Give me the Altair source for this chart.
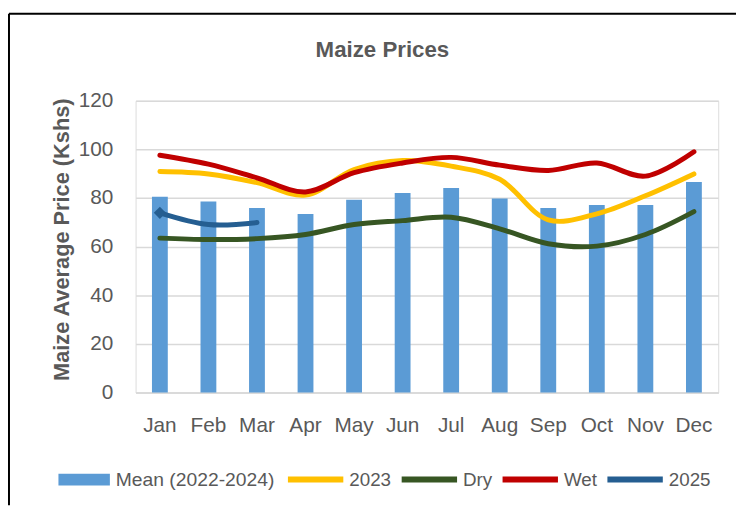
import altair as alt
import pandas as pd

months = ["Jan", "Feb", "Mar", "Apr", "May", "Jun", "Jul", "Aug", "Sep", "Oct", "Nov", "Dec"]
mean_vals = [80.5, 78.6, 75.9, 73.4, 79.3, 82.1, 84.1, 79.8, 75.9, 77.1, 77.1, 86.6]
vals_2023 = [90.9, 89.9, 86.3, 81.2, 91.7, 95.4, 93.1, 87.7, 71.0, 73.5, 80.9, 89.9]
vals_dry = [63.5, 62.9, 63.3, 65.0, 69.1, 70.7, 72.1, 67.3, 61.2, 60.2, 65.0, 74.4]
vals_wet = [97.6, 93.9, 88.3, 82.5, 90.4, 94.4, 96.7, 93.5, 91.3, 94.4, 89.0, 99.0]
vals_2025 = [73.9, 69.1, 69.9]

line_names = ["2023", "Dry", "Wet", "2025"]
line_colors = ["#FFC000", "#375623", "#C00000", "#255E91"]
bar_name = "Mean (2022-2024)"
bar_color = "#5B9BD5"

FONT = "Liberation Sans"
GREY = "#595959"

bars = pd.DataFrame({"month": months, "value": mean_vals, "series": bar_name})
rows = []
for name, vals in zip(line_names, [vals_2023, vals_dry, vals_wet, vals_2025]):
    for m, v in zip(months, vals):
        rows.append({"month": m, "value": v, "series": name})
lines = pd.DataFrame(rows)
first_2025 = pd.DataFrame({"month": [months[0]], "value": [vals_2025[0]]})

W, H = 589, 295

xscale = alt.Scale(domain=months, paddingInner=0, paddingOuter=0)
xenc = alt.X("month:N", scale=xscale, sort=months,
             axis=alt.Axis(title=None, labelAngle=0, ticks=False, grid=False,
                           domain=True, domainColor="#d9d9d9", domainWidth=1.5,
                           labelFont=FONT, labelFontSize=21, labelColor=GREY,
                           labelPadding=22))
yscale = alt.Scale(domain=[0, 120], nice=False)
yenc = alt.Y("value:Q", scale=yscale,
             axis=alt.Axis(title="Maize Average Price (Kshs)", values=list(range(0, 121, 20)),
                           ticks=False, domain=False, grid=True, gridColor="#d9d9d9",
                           gridWidth=1.5, labelFont=FONT, labelFontSize=21, labelColor=GREY,
                           labelPadding=23, titleFont=FONT, titleFontSize=22,
                           titleFontWeight="bold", titleColor=GREY, titleAngle=270,
                           titleBaseline="middle", titleAlign="center",
                           titleX=-75, titleY=140))

bar_layer = alt.Chart(bars).mark_bar(size=16).encode(
    x=xenc, y=yenc,
    fill=alt.Fill("series:N", scale=alt.Scale(domain=[bar_name], range=[bar_color]),
                  legend=alt.Legend(title=None, orient="none", legendX=-78, legendY=357,
                                    direction="horizontal",
                                    symbolType="M-1,-0.23H1V0.23H-1Z", symbolSize=2704,
                                    symbolStrokeWidth=0, labelFont=FONT, labelFontSize=19.5,
                                    labelColor=GREY, labelOffset=6, labelLimit=300)),
)

stroke_scale = alt.Scale(domain=line_names, range=line_colors)
stroke_legend = alt.Legend(title=None, orient="none", legendX=151, legendY=352,
                           direction="horizontal", symbolType="stroke", symbolSize=3136,
                           symbolStrokeWidth=6, labelFont=FONT, labelFontSize=19,
                           labelColor=GREY, labelOffset=3, columnPadding=-2, labelLimit=300)

line_layers = []
for name in line_names:
    line_layers.append(
        alt.Chart(lines).transform_filter(alt.datum.series == name)
        .mark_line(strokeWidth=5, strokeCap="round", strokeJoin="round",
                   interpolate="catmull-rom")
        .encode(x=xenc, y=yenc,
                stroke=alt.Stroke("series:N", scale=stroke_scale, legend=stroke_legend))
    )

diamond = alt.Chart(first_2025).mark_point(shape="diamond", filled=True, size=150,
                                           opacity=1, color="#255E91").encode(x=xenc, y=yenc)

frame_df = pd.DataFrame({"k": [0]})
frame_left = alt.Chart(frame_df).mark_rule(color="#000000", strokeWidth=2).encode(
    x=alt.value(-128), y=alt.value(-88), y2=alt.value(H + 114))
frame_top = alt.Chart(frame_df).mark_rule(color="#000000", strokeWidth=2).encode(
    x=alt.value(-128), x2=alt.value(W + 18), y=alt.value(-88))

chart = alt.layer(bar_layer, *line_layers, diamond, frame_left, frame_top).properties(
    width=W, height=H,
    title=alt.TitleParams("Maize Prices", font=FONT, fontSize=22.5, fontWeight="bold",
                          color=GREY, anchor="middle", frame="group", dx=-45, offset=-67,
                          baseline="alphabetic"),
    autosize=alt.AutoSizeParams(type="none"),
    padding={"left": 129, "top": 91, "right": 18, "bottom": 114},
).resolve_scale(x="shared", y="shared").configure_view(stroke=None).configure(background="white")

chart.save("out.html", embed_options={"renderer": "svg", "actions": False})
